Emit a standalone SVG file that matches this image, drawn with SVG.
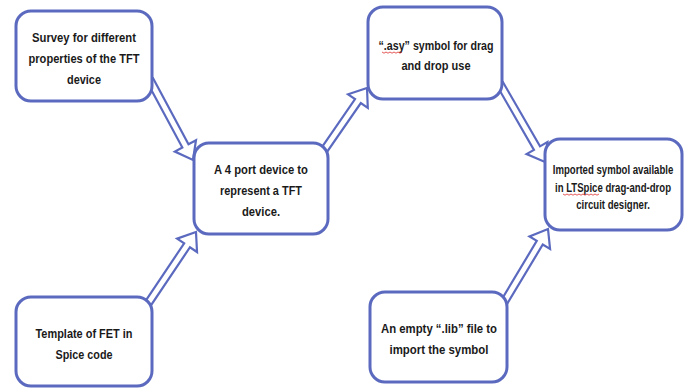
<svg xmlns="http://www.w3.org/2000/svg" width="686" height="389" viewBox="0 0 686 389">
  <style>
    .box { fill: #ffffff; stroke: #5b6abf; stroke-width: 3; }
    .arrow { fill: #ffffff; stroke: #5b6abf; stroke-width: 2.2; stroke-linejoin: miter; }
    .t { font-family: "Liberation Sans", Arial, sans-serif; font-weight: bold; font-size: 13.5px; fill: #1a1a1a; text-anchor: middle; }
    .s { font-size: 12px; }
    .sq { fill: none; stroke: #e03030; stroke-width: 0.8; }
  </style>
  <rect width="686" height="389" fill="#ffffff"/>
  <g id="connectors">
    <polygon class="arrow" transform="translate(150,80) rotate(61.74)" points="0,-3.5 74.8,-3.5 74.8,-12 90.8,0 74.8,12 74.8,3.5 0,3.5"/>
    <polygon class="arrow" transform="translate(320,156) rotate(-55.35)" points="0,-3.5 66.7,-3.5 66.7,-12 82.7,0 66.7,12 66.7,3.5 0,3.5"/>
    <polygon class="arrow" transform="translate(147,305) rotate(-56.13)" points="0,-3.5 71.9,-3.5 71.9,-12 87.9,0 71.9,12 71.9,3.5 0,3.5"/>
    <polygon class="arrow" transform="translate(500,84) rotate(60.02)" points="0,-3.5 74,-3.5 74,-12 90,0 74,12 74,3.5 0,3.5"/>
    <polygon class="arrow" transform="translate(500,309) rotate(-59.04)" points="0,-3.5 77.3,-3.5 77.3,-12 93.3,0 77.3,12 77.3,3.5 0,3.5"/>
  </g>
  <g id="survey">
    <rect class="box" x="16" y="11" width="136" height="90" rx="15"/>
    <text class="t" x="84" y="42" textLength="104" lengthAdjust="spacingAndGlyphs">Survey for different</text>
    <text class="t" x="84" y="63" textLength="111" lengthAdjust="spacingAndGlyphs">properties of the TFT</text>
    <text class="t" x="84" y="83.5" textLength="34" lengthAdjust="spacingAndGlyphs">device</text>
  </g>
  <g id="port-device">
    <rect class="box" x="194" y="143" width="134" height="91" rx="15"/>
    <text class="t" x="261" y="174" textLength="94" lengthAdjust="spacingAndGlyphs">A 4 port device to</text>
    <text class="t" x="261" y="195" textLength="82" lengthAdjust="spacingAndGlyphs">represent a TFT</text>
    <text class="t" x="261" y="215.5" textLength="38" lengthAdjust="spacingAndGlyphs">device.</text>
  </g>
  <g id="template">
    <rect class="box" x="16" y="297" width="136" height="89" rx="15"/>
    <text class="t" x="84" y="338" textLength="97" lengthAdjust="spacingAndGlyphs">Template of FET in</text>
    <text class="t" x="84" y="359" textLength="57" lengthAdjust="spacingAndGlyphs">Spice code</text>
  </g>
  <g id="asy-symbol">
    <rect class="box" x="368" y="7" width="134" height="92" rx="15"/>
    <text class="t" x="436" y="50" textLength="115" lengthAdjust="spacingAndGlyphs">“.asy” symbol for drag</text>
    <text class="t" x="436" y="70" textLength="69" lengthAdjust="spacingAndGlyphs">and drop use</text>
    <path class="sq" d="M382,52 l2,1.2 l2,-1.2 l2,1.2 l2,-1.2 l2,1.2 l2,-1.2 l2,1.2 l2,-1.2 l2,1.2 l2,-1.2"/>
  </g>
  <g id="imported">
    <rect class="box" x="545" y="139" width="137" height="91" rx="15"/>
    <g transform="translate(613,0) scale(0.8,1)">
      <text class="t s" x="0" y="174.5">Imported symbol available</text>
      <text class="t s" x="0" y="192">in LTSpice drag-and-drop</text>
      <text class="t s" x="0" y="209.5">circuit designer.</text>
    </g>
    <path class="sq" d="M563,194 l2,1.2 l2,-1.2 l2,1.2 l2,-1.2 l2,1.2 l2,-1.2 l2,1.2 l2,-1.2 l2,1.2 l2,-1.2 l2,1.2 l2,-1.2 l2,1.2 l2,-1.2 l2,1.2 l2,-1.2 l2,1.2 l2,-1.2"/>
  </g>
  <g id="empty-lib">
    <rect class="box" x="370" y="292" width="137" height="90" rx="15"/>
    <text class="t" x="439" y="333" textLength="116" lengthAdjust="spacingAndGlyphs">An empty “.lib” file to</text>
    <text class="t" x="439" y="354" textLength="99" lengthAdjust="spacingAndGlyphs">import the symbol</text>
  </g>
</svg>
